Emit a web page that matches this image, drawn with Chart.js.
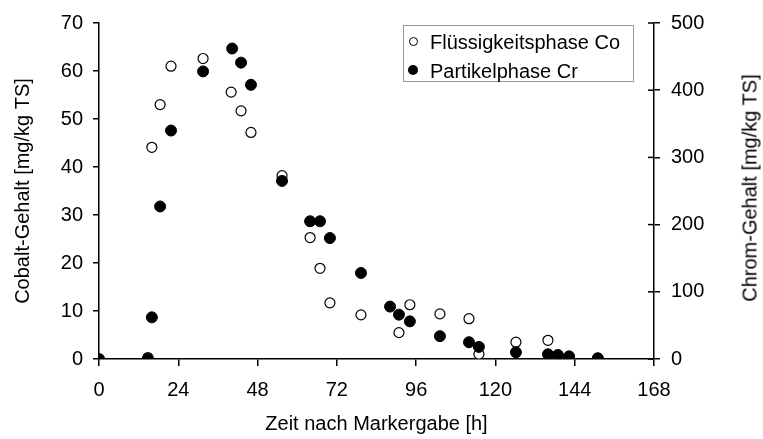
<!DOCTYPE html>
<html>
<head>
<meta charset="utf-8">
<script src="https://cdn.jsdelivr.net/npm/chart.js@4.4.0/dist/chart.umd.min.js"></script>
<style>
  body { margin: 0; background: #fff; }
  #wrap { position: relative; width: 763px; height: 439px; }
  #legend {
    position: absolute; left: 403px; top: 25px; width: 231px; height: 57px;
    border: 1px solid #999; box-sizing: border-box;
    font: 20px "Liberation Sans", Arial, sans-serif; color: #000;
  }
  .item { position: absolute; left: 0; height: 24px; line-height: 24px; white-space: nowrap; }
  .item span.mk { position: absolute; left: 5px; top: 7px; width: 9px; height: 9px; border-radius: 50%; box-sizing: border-box; }
  .item span.tx { position: absolute; left: 26px; top: 0; }
  #rtitle {
    position: absolute; left: 750px; top: 188px; white-space: nowrap;
    font: 20px "Liberation Sans", Arial, sans-serif; color: #000;
    transform: translate(-50%, -50%) rotate(-90deg);
  }
</style>
</head>
<body>
<div id="wrap">
  <canvas id="c" width="763" height="439"></canvas>
  <div id="legend">
    <div class="item" style="top:4px"><span class="mk" style="border:1px solid #000;background:#fff"></span><span class="tx">Flüssigkeitsphase Co</span></div>
    <div class="item" style="top:33px"><span class="mk" style="background:#000;width:10px;height:10px;top:6px;left:4px"></span><span class="tx">Partikelphase Cr</span></div>
  </div>
  <div id="rtitle">Chrom-Gehalt [mg/kg TS]</div>
</div>
<script>
// Zeit [h] und Gehalte
const timeCo = [0, 14.8, 16.0, 18.5, 21.8, 31.5, 40.0, 43.0, 46.0, 55.4, 63.9, 66.9, 69.9, 79.3, 90.8, 94.1, 103.2, 112.0, 115.0, 126.2, 135.9, 138.9, 142.3, 151.0];
const cobalt = [0, 0.3, 44.1, 53.0, 61.0, 62.6, 55.6, 51.7, 47.2, 38.2, 25.3, 18.9, 11.7, 9.2, 5.5, 11.3, 9.4, 8.4, 1.0, 3.5, 3.9, 0.1, 0.1, 0.2];

const timeCr = [0, 14.8, 16.0, 18.5, 21.8, 31.5, 40.3, 43.0, 46.0, 55.4, 63.9, 66.9, 69.9, 79.3, 88.1, 90.8, 94.1, 103.2, 112.0, 115.0, 126.2, 135.9, 138.9, 142.3, 151.0];
const chrom = [0, 0, 62, 227, 340, 428, 462, 441, 408, 265, 205, 205, 180, 128, 78, 66, 56, 34, 25, 18, 10, 7, 6, 4, 1];

const xTicks = [0, 24, 48, 72, 96, 120, 144, 168];

const font = { family: "'Liberation Sans', Arial, sans-serif", size: 20 };

// inner half of the right axis ticks (they cross the axis line)
const crossTicks = {
  id: 'crossTicks',
  afterDraw(chart) {
    const s = chart.scales.y1;
    const ctx = chart.ctx;
    ctx.save();
    ctx.strokeStyle = '#000';
    ctx.lineWidth = 1.5;
    s.ticks.forEach(t => {
      const y = s.getPixelForValue(t.value);
      ctx.beginPath();
      ctx.moveTo(s.left - 6, y);
      ctx.lineTo(s.left, y);
      ctx.stroke();
    });
    ctx.restore();
  }
};

new Chart(document.getElementById('c'), {
  type: 'scatter',
  data: {
    datasets: [
      {
        label: 'Partikelphase Cr',
        data: timeCr.map((t, i) => ({ x: t, y: chrom[i] })),
        yAxisID: 'y1',
        backgroundColor: '#000',
        borderColor: '#000',
        borderWidth: 1,
        pointRadius: 5.5,
        order: 0
      },
      {
        label: 'Flüssigkeitsphase Co',
        data: timeCo.map((t, i) => ({ x: t, y: cobalt[i] })),
        yAxisID: 'y',
        backgroundColor: '#fff',
        borderColor: '#000',
        borderWidth: 1.2,
        pointRadius: 5,
        order: 1
      }
    ]
  },
  options: {
    responsive: false,
    animation: false,
    layout: { padding: { top: 18, left: 0, right: 0, bottom: 0 } },
    plugins: { legend: { display: false }, tooltip: { enabled: false } },
    scales: {
      x: {
        type: 'linear', min: 0, max: 168,
        afterBuildTicks: s => { s.ticks = xTicks.map(v => ({ value: v })); },
        afterFit: s => { s.height = 80; },
        grid: { drawOnChartArea: false, drawTicks: true, tickLength: 7, color: '#000', lineWidth: 1.5 },
        border: { display: true, color: '#000', width: 1.5 },
        ticks: { color: '#000', font: font, padding: 12, maxRotation: 0 },
        title: { display: true, text: 'Zeit nach Markergabe [h]', color: '#000', font: font, padding: { top: 0, bottom: 3 } }
      },
      y: {
        position: 'left', min: 0, max: 70,
        afterFit: s => { s.width = 99; },
        grid: { drawOnChartArea: false, drawTicks: true, tickLength: 6, color: '#000', lineWidth: 1.5 },
        border: { display: true, color: '#000', width: 1.5 },
        ticks: { stepSize: 10, color: '#000', font: font, padding: 10 },
        title: { display: true, text: 'Cobalt-Gehalt [mg/kg TS]', color: '#000', font: font, padding: { top: 11, bottom: 0 } }
      },
      y1: {
        position: 'right', min: 0, max: 500,
        afterFit: s => { s.width = 109; },
        grid: { drawOnChartArea: false, drawTicks: true, tickLength: 6, color: '#000', lineWidth: 1.5 },
        border: { display: true, color: '#000', width: 1.5 },
        ticks: { stepSize: 100, color: '#000', font: font, padding: 11 },
        title: { display: false }
      }
    }
  },
  plugins: [crossTicks]
});
</script>
</body>
</html>
